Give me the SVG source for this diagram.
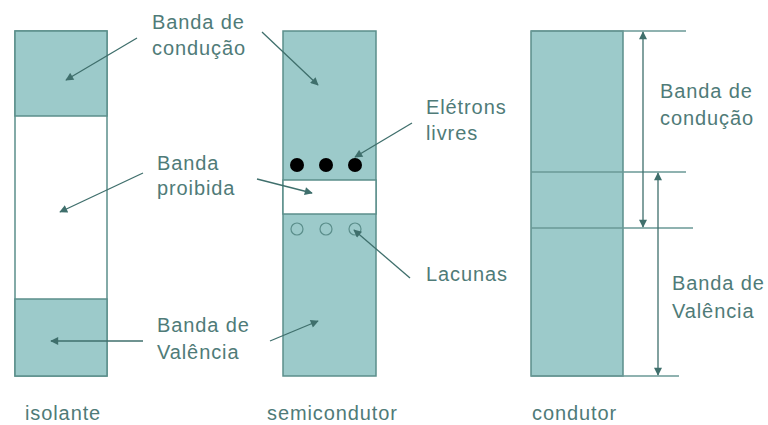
<svg xmlns="http://www.w3.org/2000/svg" width="768" height="425" viewBox="0 0 768 425">
<defs>
<style>
.band{fill:#9ccaca;stroke:#5b8e8b;stroke-width:1.5}
.gap{fill:#ffffff;stroke:#5b8e8b;stroke-width:1.5}
.lbl{font-family:"Liberation Sans",Arial,sans-serif;font-size:20px;letter-spacing:0.9px;fill:#4f7b78}
.lead{stroke:#3f6f6c;stroke-width:1.3;fill:none;marker-end:url(#ah)}
.hl{stroke:#6a9996;stroke-width:1.3;fill:none}
.dim{stroke:#3f6f6c;stroke-width:1.3;fill:none;marker-start:url(#ah);marker-end:url(#ah)}
</style>
<marker id="ah" viewBox="0 0 10 10" refX="9" refY="5" markerWidth="9" markerHeight="8" markerUnits="userSpaceOnUse" orient="auto-start-reverse">
<path d="M0,0 L10,5 L0,10 z" fill="#3f6f6c"/>
</marker>
</defs>
<rect width="768" height="425" fill="#ffffff"/>
<g id="isolante">
<rect class="gap" x="15" y="31" width="92" height="345"/>
<rect class="band" x="15" y="31" width="92" height="85"/>
<rect class="band" x="15" y="299" width="92" height="77"/>
<text class="lbl" x="25" y="420">isolante</text>
</g>
<g id="semicondutor">
<rect class="band" x="283" y="31" width="93" height="345"/>
<rect class="gap" x="283" y="180" width="93" height="34"/>
<circle cx="297" cy="165" r="7" fill="#000"/>
<circle cx="326" cy="165" r="7" fill="#000"/>
<circle cx="355" cy="165" r="7" fill="#000"/>
<circle cx="297" cy="229" r="6" fill="none" stroke="#5b8e8b" stroke-width="1.2"/>
<circle cx="326" cy="229" r="6" fill="none" stroke="#5b8e8b" stroke-width="1.2"/>
<circle cx="355" cy="229" r="6" fill="none" stroke="#5b8e8b" stroke-width="1.2"/>
<text class="lbl" x="267" y="420">semicondutor</text>
</g>
<g id="condutor">
<rect class="band" x="531" y="31" width="92" height="345"/>
<text class="lbl" x="532" y="420">condutor</text>
</g>
<g id="labels">
<text class="lbl" x="152" y="29">Banda de</text>
<text class="lbl" x="152" y="55">condução</text>
<text class="lbl" x="157" y="170">Banda</text>
<text class="lbl" x="157" y="195">proibida</text>
<text class="lbl" x="157" y="332">Banda de</text>
<text class="lbl" x="157" y="359">Valência</text>
<text class="lbl" x="426" y="114">Elétrons</text>
<text class="lbl" x="426" y="140">livres</text>
<text class="lbl" x="426" y="281">Lacunas</text>
<text class="lbl" x="660" y="98">Banda de</text>
<text class="lbl" x="660" y="125">condução</text>
<text class="lbl" x="672" y="290">Banda de</text>
<text class="lbl" x="672" y="318">Valência</text>
</g>
<g id="connectors">
<line class="lead" x1="137" y1="38" x2="66" y2="80"/>
<line class="lead" x1="143" y1="173" x2="60" y2="212"/>
<line class="lead" x1="143" y1="341" x2="51" y2="341"/>
<line class="lead" x1="262" y1="32" x2="318" y2="85"/>
<line class="lead" x1="257" y1="179" x2="312" y2="193"/>
<line class="lead" x1="270" y1="341" x2="318" y2="321"/>
<line class="lead" x1="412" y1="123" x2="355" y2="157"/>
<line class="lead" x1="410" y1="278" x2="354" y2="230"/>
<line class="hl" x1="531" y1="31" x2="686" y2="31"/>
<line class="hl" x1="531" y1="172" x2="686" y2="172"/>
<line class="hl" x1="531" y1="228" x2="693" y2="228"/>
<line class="hl" x1="531" y1="376" x2="679" y2="376"/>
<line class="dim" x1="643" y1="32" x2="643" y2="227"/>
<line class="dim" x1="658" y1="173" x2="658" y2="375"/>
</g>
</svg>
